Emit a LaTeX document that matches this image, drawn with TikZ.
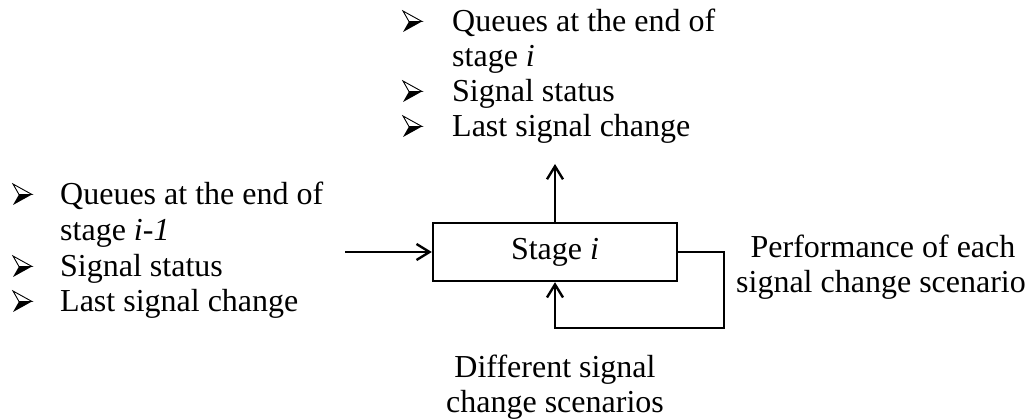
\documentclass[tikz,border=0pt]{standalone}
\usepackage{fontspec}
\setmainfont{Liberation Serif}
\usetikzlibrary{arrows.meta}
\tikzset{
  txt/.style={inner sep=0pt, font=\fontsize{32}{35}\selectfont},
  wire/.style={line width=2.4pt},
  arr/.style={wire, -{Straight Barb[length=13pt,width=16pt,line width=2.4pt]}},
  stagebox/.style={draw, line width=2.4pt, minimum width=244pt, minimum height=58pt,
    inner sep=0pt, font=\fontsize{32}{35}\selectfont},
  bullet/.pic={
    \draw[line width=0.9pt, line join=miter] (0,-21) -- (19,-10.5) -- (6,-10.5) -- cycle;
    \fill (6,-10.5) -- (19,-10.5) -- (0,0) -- cycle;
  }
}
\begin{document}
\begin{tikzpicture}[x=1pt, y=-1pt]
\useasboundingbox (0,0) rectangle (1035,419);

% inputs of the stage
\pic at (13,205) {bullet};
\node[txt, anchor=base west] (inA) at (60,205) {Queues at the end of};
\node[txt, anchor=base west] (inB) at (60,241) {stage \textit{i-1}};
\pic at (13,277) {bullet};
\node[txt, anchor=base west] (inC) at (60,277) {Signal status};
\pic at (13,312) {bullet};
\node[txt, anchor=base west] (inD) at (60,312) {Last signal change};

% outputs of the stage
\pic at (403,32) {bullet};
\node[txt, anchor=base west] (outA) at (452,32) {Queues at the end of};
\node[txt, anchor=base west] (outB) at (452,67) {stage \textit{i}};
\pic at (403,102) {bullet};
\node[txt, anchor=base west] (outC) at (452,102) {Signal status};
\pic at (403,137) {bullet};
\node[txt, anchor=base west] (outD) at (452,137) {Last signal change};

% the stage itself
\node[stagebox] (stage) at (555,252) {Stage \textit{i}};

\coordinate (src) at (345,252);
\coordinate (dst) at (555,164);
\coordinate (loopA) at (724,252);
\coordinate (loopB) at (724,328);
\coordinate (loopC) at (555,328);

\draw[arr] (src) -- (stage.west);
\draw[arr] (stage.north) -- (dst);
\draw[arr] (stage.east |- loopA) -- (loopA) -- (loopB) -- (loopC) -- (stage.south);

% loop labels
\node[txt, anchor=base] (perfA) at (883,258) {Performance of each};
\node[txt, anchor=base] (perfB) at (881,293) {signal change scenario};
\node[txt, anchor=base] (scenA) at (555,377) {Different signal};
\node[txt, anchor=base] (scenB) at (555,412) {change scenarios};
\end{tikzpicture}
\end{document}
